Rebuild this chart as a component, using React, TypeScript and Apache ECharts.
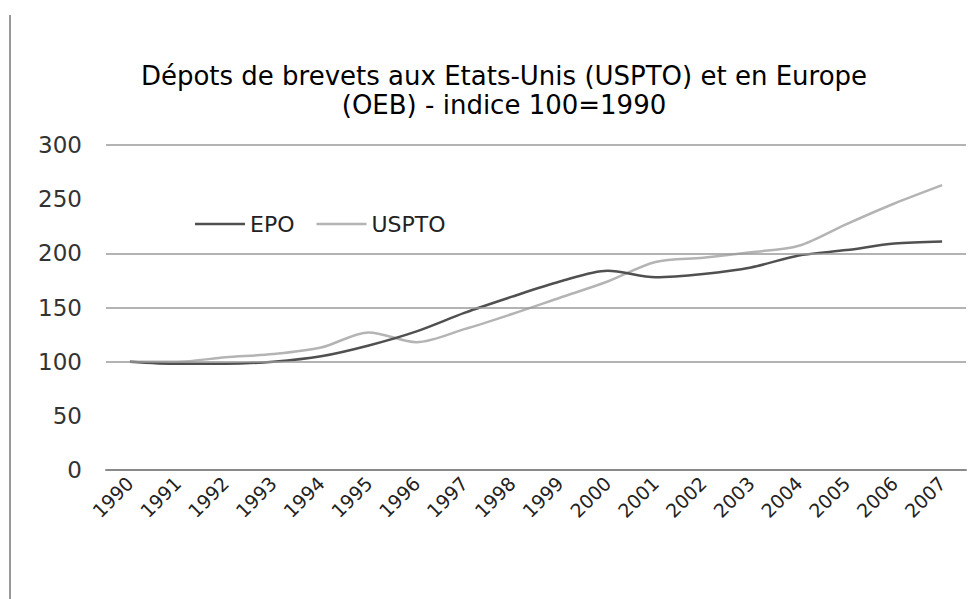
import React, { useEffect, useRef } from "react";
import * as echarts from "echarts";

const years = ["1990","1991","1992","1993","1994","1995","1996","1997","1998","1999","2000","2001","2002","2003","2004","2005","2006","2007"];
const epo = [100, 98, 98, 100, 105, 115, 128, 145, 160, 174, 184, 178, 181, 187, 198, 203, 209, 211];
const uspto = [100, 100, 104, 107, 113, 127, 118, 130, 144, 159, 174, 192, 196, 201, 207, 227, 246, 263];
const gridValues = [100, 150, 200, 300];
const titleText = "Dépots de brevets aux Etats-Unis (USPTO) et en Europe\n(OEB) - indice 100=1990";
const FONT = "DejaVu Sans";

export default function App() {
  const ref = useRef<HTMLDivElement>(null);
  useEffect(() => {
    if (!ref.current) return;
    const chart = echarts.init(ref.current, undefined, { renderer: "svg" });
    chart.setOption({
      animation: false,
      backgroundColor: "#ffffff",
      title: {
        text: titleText,
        left: 499,
        textAlign: "center",
        top: 56,
        textStyle: { fontFamily: FONT, fontSize: 26, fontWeight: "normal", color: "#000", lineHeight: 29 },
      },
      legend: {
        left: 190,
        top: 208,
        icon: "rect",
        itemWidth: 50,
        itemHeight: 2.5,
        itemGap: 22,
        textStyle: { fontFamily: FONT, fontSize: 22, color: "#222", padding: [0, 0, 0, 0] },
        data: ["EPO", "USPTO"],
      },
      grid: { left: 106, right: 13, top: 145, bottom: 129 },
      xAxis: {
        type: "category",
        data: years,
        boundaryGap: true,
        axisLine: { show: true, lineStyle: { color: "#8a8a8a", width: 2 } },
        axisTick: { show: false },
        axisLabel: { rotate: 45, fontFamily: FONT, fontSize: 19, color: "#222", margin: 10, interval: 0 },
      },
      yAxis: {
        type: "value",
        min: 0,
        max: 300,
        interval: 50,
        axisLine: { show: false },
        axisTick: { show: false },
        splitLine: { show: false },
        axisLabel: { fontFamily: FONT, fontSize: 23, color: "#333", margin: 24 },
      },
      graphic: [
        { type: "line", shape: { x1: 10, y1: 15, x2: 10, y2: 599 }, style: { stroke: "#999", lineWidth: 2 } },
      ],
      series: [
        {
          name: "EPO",
          type: "line",
          data: epo,
          symbol: "none",
          smooth: 0.3,
          lineStyle: { color: "#505050", width: 2.5 },
          itemStyle: { color: "#505050" },
          z: 3,
          markLine: {
            silent: true,
            symbol: "none",
            label: { show: false },
            lineStyle: { color: "#9a9a9a", width: 1.5, type: "solid" },
            data: gridValues.map((v) => ({ yAxis: v })),
          },
        },
        {
          name: "USPTO",
          type: "line",
          data: uspto,
          symbol: "none",
          smooth: 0.3,
          lineStyle: { color: "#b4b4b4", width: 2.5 },
          itemStyle: { color: "#b4b4b4" },
          z: 2,
        },
      ],
    });
    return () => chart.dispose();
  }, []);
  return <div ref={ref} style={{ position: "fixed", left: 0, top: 0, width: 979, height: 599 }} />;
}
